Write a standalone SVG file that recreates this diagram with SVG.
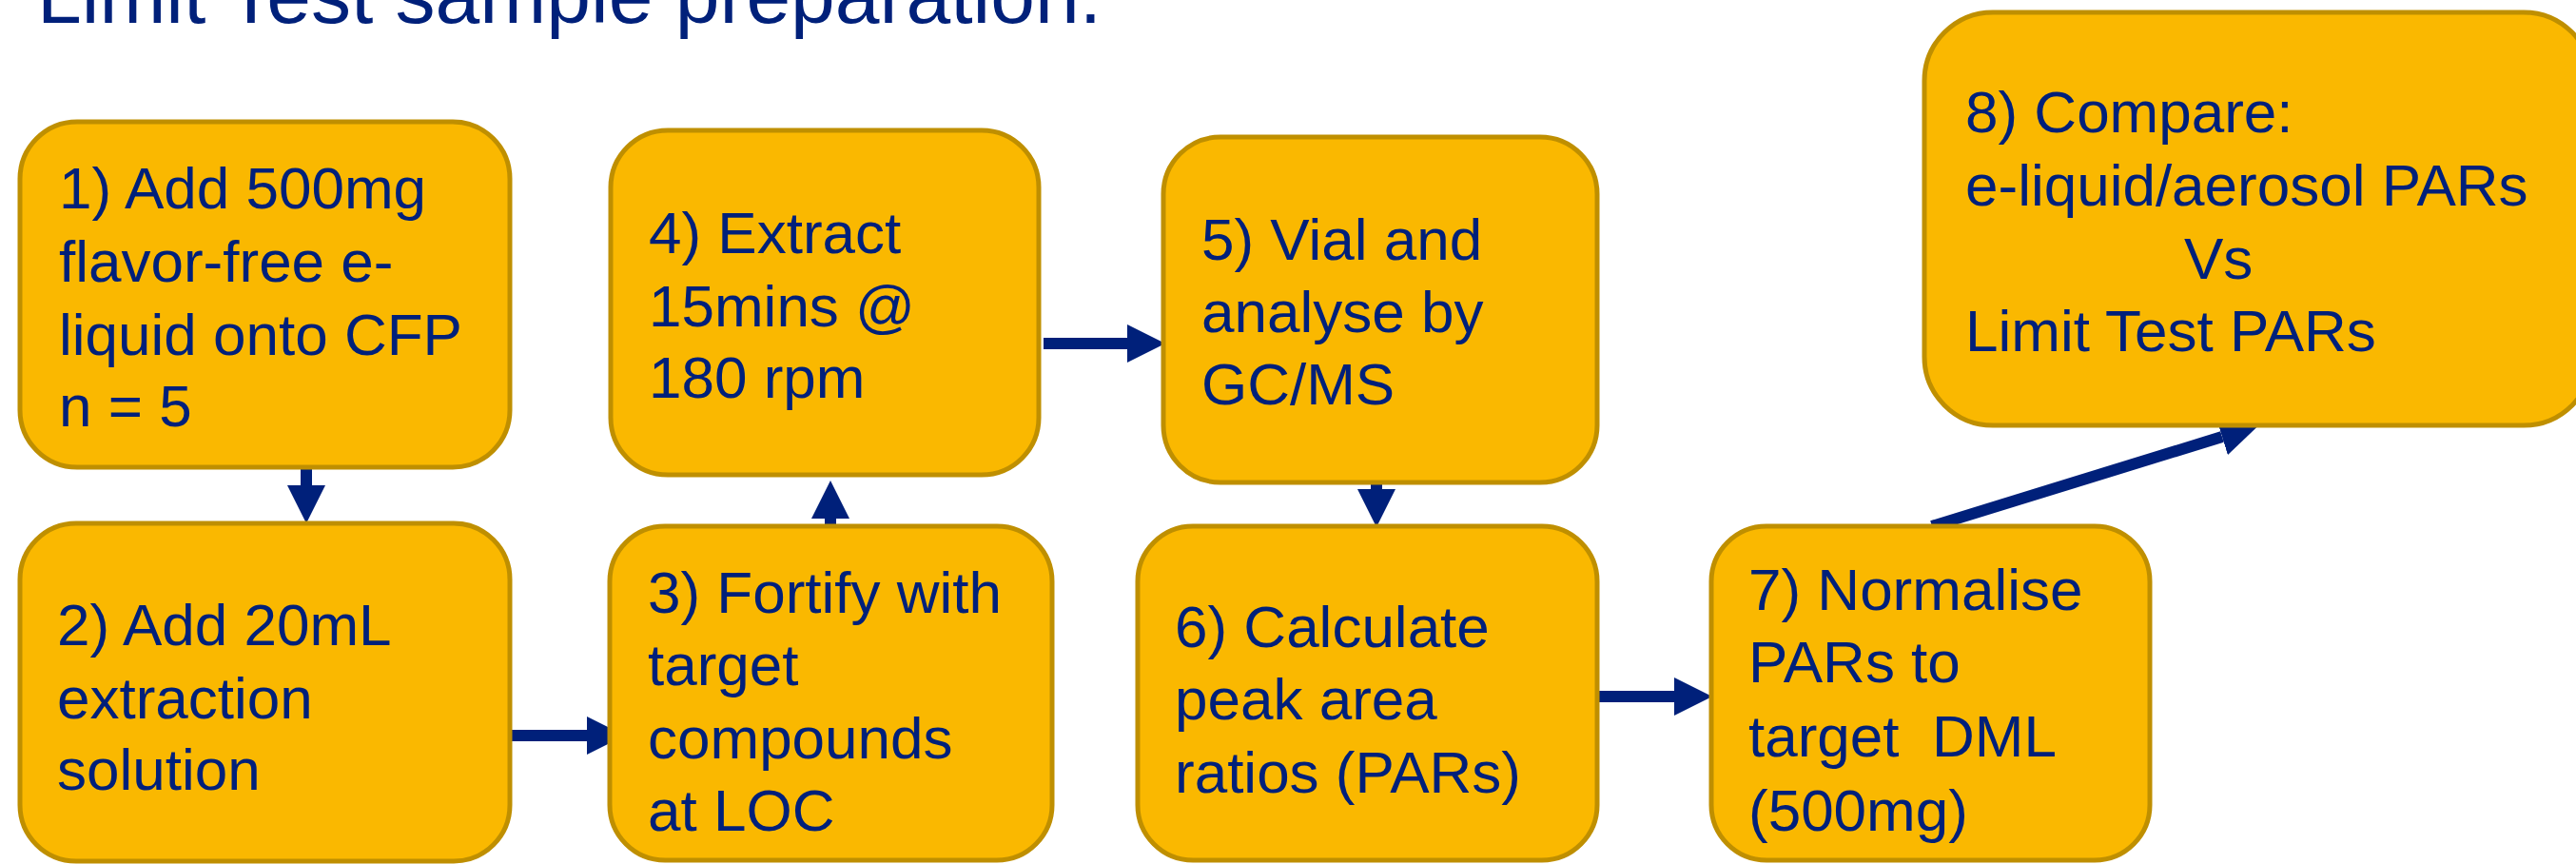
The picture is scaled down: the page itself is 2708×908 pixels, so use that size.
<svg xmlns="http://www.w3.org/2000/svg" width="2708" height="908" viewBox="0 0 2708 908">
<style>
.box{fill:#FAB800;stroke:#BF8F00;stroke-width:5}
.t{font-family:"Liberation Sans",Arial,sans-serif;font-size:62px;fill:#00207A}
.title{font-family:"Liberation Sans",Arial,sans-serif;font-size:84px;fill:#00207A}
.c{stroke:#00207A;stroke-width:12;fill:none;marker-end:url(#ah)}
</style>
<defs>
<marker id="ah" markerUnits="userSpaceOnUse" markerWidth="40" markerHeight="40" refX="0" refY="20" orient="auto" viewBox="0 0 40 40">
<path d="M0,0 L40,20 L0,40 Z" fill="#00207A"/>
</marker>
</defs>
<rect width="2708" height="908" fill="#FFFFFF"/>
<text class="title" x="39" y="24">Limit Test sample preparation.</text>

<g id="connectors">
<line class="c" x1="322" y1="492" x2="322" y2="510"/>
<line class="c" x1="530" y1="773" x2="617" y2="773"/>
<line class="c" x1="873" y1="553" x2="873" y2="545"/>
<line class="c" x1="1097" y1="361" x2="1185" y2="361"/>
<line class="c" x1="1447" y1="506" x2="1447" y2="514"/>
<line class="c" x1="1678" y1="732" x2="1760" y2="732"/>
<line class="c" x1="2031" y1="553" x2="2336" y2="459"/>
</g>

<g id="n1">
<rect class="box" x="21" y="128" width="515" height="363" rx="60"/>
<text class="t"><tspan x="62" y="219">1) Add 500mg</tspan><tspan x="62" y="296">flavor-free e-</tspan><tspan x="62" y="373">liquid onto CFP</tspan><tspan x="62" y="448">n = 5</tspan></text>
</g>
<g id="n2">
<rect class="box" x="21" y="550" width="515" height="355" rx="59"/>
<text class="t"><tspan x="60" y="678">2) Add 20mL</tspan><tspan x="60" y="755">extraction</tspan><tspan x="60" y="830">solution</tspan></text>
</g>
<g id="n3">
<rect class="box" x="641" y="553" width="465" height="351" rx="58"/>
<text class="t"><tspan x="681" y="644">3) Fortify with</tspan><tspan x="681" y="720">target</tspan><tspan x="681" y="797">compounds</tspan><tspan x="681" y="873">at LOC</tspan></text>
</g>
<g id="n4">
<rect class="box" x="642" y="137" width="450" height="362" rx="60"/>
<text class="t"><tspan x="682" y="266">4) Extract</tspan><tspan x="682" y="343">15mins @</tspan><tspan x="682" y="418">180 rpm</tspan></text>
</g>
<g id="n5">
<rect class="box" x="1223" y="144" width="456" height="363" rx="60"/>
<text class="t"><tspan x="1263" y="273">5) Vial and</tspan><tspan x="1263" y="349">analyse by</tspan><tspan x="1263" y="425">GC/MS</tspan></text>
</g>
<g id="n6">
<rect class="box" x="1196" y="553" width="483" height="351" rx="58"/>
<text class="t"><tspan x="1235" y="680">6) Calculate</tspan><tspan x="1235" y="756">peak area</tspan><tspan x="1235" y="833">ratios (PARs)</tspan></text>
</g>
<g id="n7">
<rect class="box" x="1799" y="553" width="461" height="351" rx="58"/>
<text class="t" xml:space="preserve"><tspan x="1838" y="641">7) Normalise</tspan><tspan x="1838" y="717">PARs to</tspan><tspan x="1838" y="795">target  DML</tspan><tspan x="1838" y="873">(500mg)</tspan></text>
</g>
<g id="n8">
<rect class="box" x="2023" y="13" width="702" height="434" rx="72"/>
<text class="t"><tspan x="2066" y="139">8) Compare:</tspan><tspan x="2066" y="216">e-liquid/aerosol PARs</tspan><tspan x="2296" y="293">Vs</tspan><tspan x="2066" y="369">Limit Test PARs</tspan></text>
</g>
</svg>
